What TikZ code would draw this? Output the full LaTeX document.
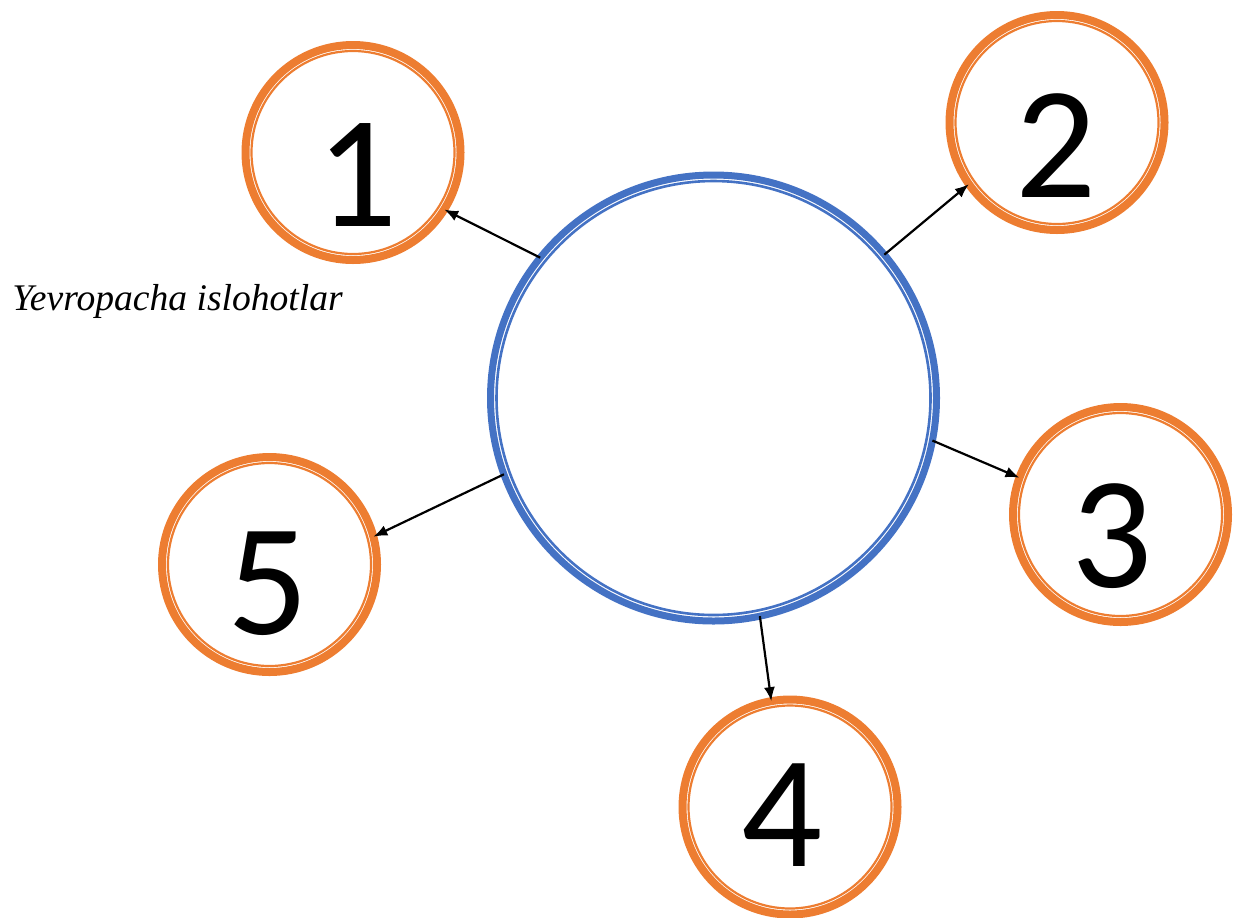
\documentclass[tikz,border=0pt]{standalone}
\usepackage{fontspec}
\setmainfont{Liberation Serif}
\newfontfamily\digitfont{Carlito}
\usetikzlibrary{arrows.meta}
\definecolor{ringorange}{HTML}{ED7D31}
\definecolor{ringblue}{HTML}{4472C4}
\begin{document}
\begin{tikzpicture}[x=0.5pt,y=-0.5pt,
  numring/.style={circle,draw=ringorange,line width=4pt,minimum size=107.5pt,inner sep=0pt,outer sep=0pt},
  hubring/.style={circle,draw=ringblue,line width=3.5pt,minimum size=223pt,inner sep=0pt,outer sep=0pt},
  innerorange/.style={draw=ringorange,line width=1.1pt},
  innerblue/.style={draw=ringblue,line width=1.3pt},
  digit/.style={font=\digitfont\fontsize{80}{80}\selectfont,inner sep=0pt},
  conn/.style={draw=black,line width=1.1pt,-{Latex[length=7pt,width=5.5pt]}}
]
\useasboundingbox (0,0) rectangle (1240,917);
\node[hubring] (hub) at (713.5,398) {};
\draw[innerblue] (hub.center) circle[radius=217];
\foreach \n/\x/\y/\dx/\dy in {1/353/152.5/4/22.5, 2/1057/122.5/-1/23, 3/1120.5/514.5/-8/22, 4/790/807/-8/8, 5/269.5/564.5/-1/19}{
  \node[numring] (c\n) at (\x,\y) {};
  \draw[innerorange] (c\n.center) circle[radius=101.5];
  \node[digit] (d\n) at (\x+\dx,\y+\dy) {\n};
}
\draw[conn] (hub.141.4) -- (c1.-32);
\draw[conn] (hub.40.7) -- (c2.215.5);
\draw[conn] (hub.-11.8) -- (c3.160.7);
\draw[conn] (hub.-78.9) -- (c4.100.6);
\draw[conn] (hub.200) -- (c5.15.2);
\node[anchor=base west,inner sep=0pt,font=\itshape\fontsize{18.8}{22}\selectfont] (cap) at (12,310) {Yevropacha islohotlar};
\end{tikzpicture}
\end{document}
